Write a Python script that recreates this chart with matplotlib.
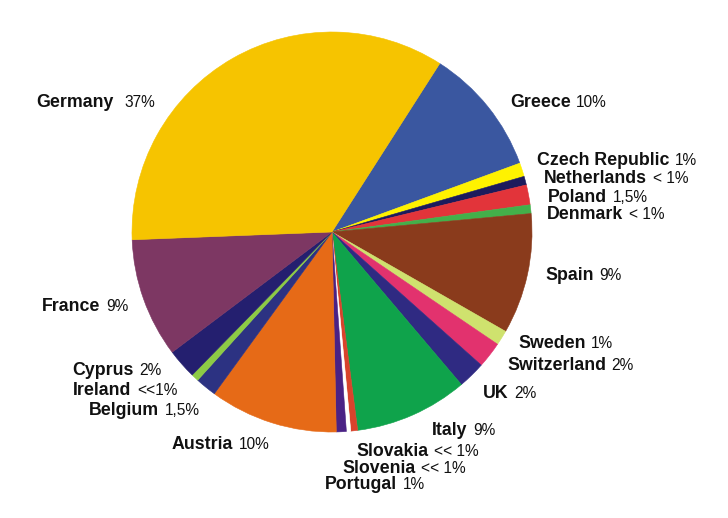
import matplotlib
matplotlib.use("Agg")
import matplotlib.pyplot as plt

plt.rcParams['font.family'] = ['Liberation Sans', 'DejaVu Sans']

# Data (clockwise from the Germany/Greece boundary), shares (%)
countries = ["Greece", "Czech Republic", "Netherlands", "Poland", "Denmark", "Spain",
             "Sweden", "Switzerland", "UK", "Italy", "Slovakia", "Slovenia", "Portugal",
             "Austria", "Belgium", "Ireland", "Cyprus", "France", "Germany"]
shares = [10.3, 1.1, 0.7, 1.6, 0.7, 9.7, 1.2, 2.1, 2.2, 9.1, 0.55, 0.35, 0.8,
          10.3, 1.7, 0.6, 2.4, 9.6, 34.5]
pct_labels = ["10%", "1%", "< 1%", "1,5%", "< 1%", "9%", "1%", "2%", "2%", "9%",
              "<< 1%", "<< 1%", "1%", "10%", "1,5%", "<<1%", "2%", "9%", "37%"]
colors = ["#3A57A0", "#FFF200", "#1C1B5C", "#E2343A", "#43B04A", "#8A3B1C",
          "#CFE26E", "#E2326E", "#2F2A82", "#0FA34B", "#D8432C", "#FFFFFF", "#4A2285",
          "#E66A17", "#2C3282", "#8DCB45", "#241F6F", "#7D3763", "#F6C400"]

# Label placement (pixel coords of left edge / vertical centre)
label_pos = {
    "Germany": (36, 101), "Greece": (510, 101), "Czech Republic": (537, 159),
    "Netherlands": (544, 177), "Poland": (548, 196), "Denmark": (547, 213),
    "Spain": (545, 274), "France": (42, 305), "Sweden": (518, 342),
    "Switzerland": (507, 364), "UK": (483, 392), "Cyprus": (72, 369),
    "Ireland": (73, 389), "Belgium": (89, 409), "Austria": (172, 443),
    "Italy": (432, 429), "Slovakia": (356, 450), "Slovenia": (342, 467),
    "Portugal": (325, 483),
}
extra_gap = {"Germany": 4.0}

W, H = 728, 518
fig = plt.figure(figsize=(W / 100, H / 100), dpi=100)
ax = fig.add_axes([0, 0, 1, 1])

wedges, _ = ax.pie(shares, colors=colors, startangle=57.4, counterclock=False,
                   center=(332, H - 232), radius=200, frame=True,
                   wedgeprops=dict(linewidth=0.4))
for w, c in zip(wedges, colors):
    w.set_edgecolor(c)
ax.set_xlim(0, W)
ax.set_ylim(0, H)
ax.set_aspect('equal')
ax.axis('off')

for name, pct in zip(countries, pct_labels):
    x, yc = label_pos[name]
    yb = H - (yc + 6.4)
    t = ax.text(x, yb, name, fontsize=12.8, fontweight='bold', ha='left',
                va='baseline', color='#111111')
    ax.annotate(pct, xy=(1, yb), xycoords=(t, 'data'),
                xytext=(4.0 + extra_gap.get(name, 0.0), 0),
                textcoords='offset points', fontsize=11.2, ha='left',
                va='baseline', color='#111111')

fig.savefig("out.png", dpi=100)
